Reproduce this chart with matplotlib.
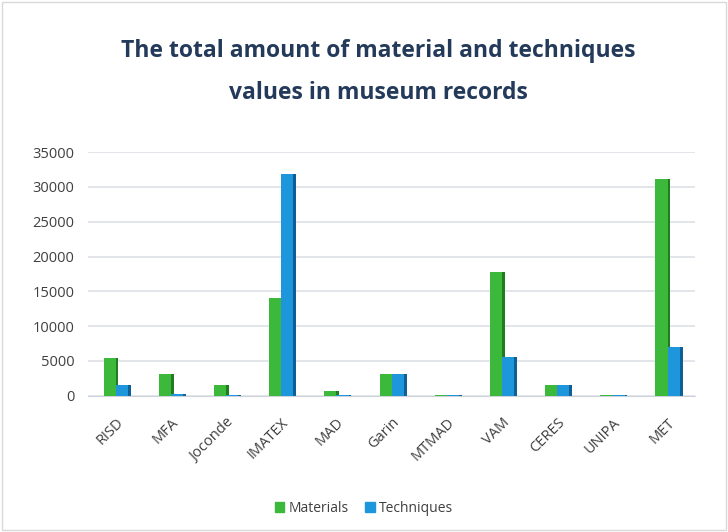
import numpy as np
import matplotlib.pyplot as plt
from matplotlib.patches import Patch

plt.rcParams['font.family'] = ['Open Sans', 'DejaVu Sans']

museums = ['RISD', 'MFA', 'Joconde', 'IMATEX', 'MAD', 'Garin', 'MTMAD', 'VAM', 'CERES', 'UNIPA', 'MET']
materials = [5500, 3100, 1500, 14000, 700, 3200, 150, 17800, 1500, 150, 31100]
techniques = [1600, 200, 100, 31800, 150, 3200, 150, 5600, 1500, 150, 7000]

green, green_dark = '#3cb83a', '#1f7d1f'
blue, blue_dark = '#1e96dc', '#0d5f95'

fig = plt.figure(figsize=(7.28, 5.32), dpi=100)
ax = fig.add_axes([0.121, 0.256, 0.834, 0.458])

x = np.arange(len(museums))
w = 0.22
side = 0.05
# front faces
ax.bar(x - w / 2, materials, w, color=green, zorder=3)
ax.bar(x + w / 2, techniques, w, color=blue, zorder=3)
# darker side strips to mimic the 3D look
ax.bar(x + side / 2, materials, side, color=green_dark, zorder=2)
ax.bar(x + w + side / 2, techniques, side, color=blue_dark, zorder=2)

ax.set_xlim(-0.5, len(museums) - 0.5)
ax.set_ylim(0, 35000)
ax.set_yticks(np.arange(0, 35001, 5000))
ax.set_xticks(x)
ax.set_xticklabels(museums, rotation=45, ha='right', rotation_mode='anchor',
                   fontsize=10.5, color='#404040')
ax.tick_params(axis='y', labelsize=10.5, labelcolor='#404040', length=0, pad=10)
ax.tick_params(axis='x', length=0, pad=14)
ax.grid(axis='y', color='#dde1e8', lw=1.2, zorder=0)
for s in ['top', 'right', 'left']:
    ax.spines[s].set_visible(False)
ax.spines['bottom'].set_color('#cfd4dc')

fig.text(0.52, 0.905, 'The total amount of material and techniques',
         ha='center', va='center', fontsize=16.5, fontweight='bold', color='#243a5a')
fig.text(0.52, 0.826, 'values in museum records',
         ha='center', va='center', fontsize=16.5, fontweight='bold', color='#243a5a')

handles = [Patch(color=green, label='Materials'), Patch(color=blue, label='Techniques')]
fig.legend(handles=handles, loc='center', bbox_to_anchor=(0.5, 0.045), ncol=2,
           frameon=False, fontsize=10, handlelength=0.7, handleheight=0.7,
           handletextpad=0.3, columnspacing=1.2, labelcolor='#404040')

fig.patches.append(plt.Rectangle((0.003, 0.003), 0.994, 0.994, transform=fig.transFigure,
                                 fill=False, edgecolor='#d9d9d9', lw=1))

fig.savefig('out.png', dpi=100)
